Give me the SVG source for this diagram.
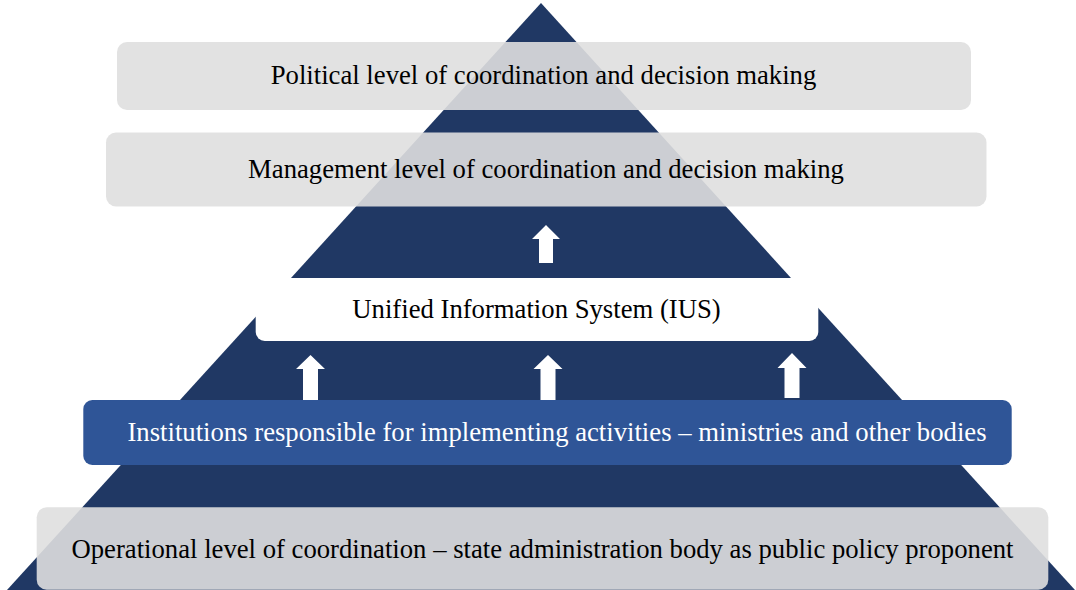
<svg xmlns="http://www.w3.org/2000/svg" width="1076" height="590" viewBox="0 0 1076 590">
  <style>
    .pyr { fill: #203864; }
    .level { fill: #dfdfdf; fill-opacity: 0.9; }
    .ius { fill: #ffffff; }
    .inst { fill: #2f5597; }
    .lbl { font-family: "Liberation Serif", "Times New Roman", serif; font-size: 26.7px; text-anchor: middle; fill: #000000; }
    .lbl-w { fill: #ffffff; }
    .arrow { fill: #ffffff; }
  </style>

  <!-- background -->
  <rect x="0" y="0" width="1076" height="590" fill="#ffffff"/>

  <!-- pyramid: upper triangle and lower trapezoid -->
  <g id="pyramid">
    <polygon class="pyr" points="541,3 291,278 791,278"/>
    <polygon class="pyr" points="271,300 811,300 1075,590 7,590"/>
  </g>

  <!-- block arrows -->
  <g id="connectors">
    <polygon class="arrow" points="546,225 560,239 553,239 553,263 539,263 539,239 532,239"/>
    <polygon class="arrow" points="310.5,355 325,369 318,369 318,400 303,400 303,369 296,369"/>
    <polygon class="arrow" points="548,355 562.5,369 555.5,369 555.5,400 540.5,400 540.5,369 533.5,369"/>
    <polygon class="arrow" points="792,353 806.5,368 799.5,368 799.5,398 784.5,398 784.5,368 777.5,368"/>
  </g>

  <g id="political">
    <rect class="level" x="117" y="42" width="854" height="68" rx="10"/>
    <text class="lbl" x="543.5" y="84">Political level of coordination and decision making</text>
  </g>

  <g id="management">
    <rect class="level" x="106" y="132.5" width="880.5" height="74" rx="10"/>
    <text class="lbl" x="546" y="177.5">Management level of coordination and decision making</text>
  </g>

  <g id="ius">
    <path class="ius" d="M255.7,278 H818.3 V332 A9,9 0 0 1 809.3,341 H264.7 A9,9 0 0 1 255.7,332 Z"/>
    <text class="lbl" x="536.5" y="318">Unified Information System (IUS)</text>
  </g>

  <g id="institutions">
    <rect class="inst" x="83.3" y="400" width="928.4" height="65" rx="9"/>
    <text class="lbl lbl-w" x="557" y="441">Institutions responsible for implementing activities – ministries and other bodies</text>
  </g>

  <g id="operational">
    <rect class="level" x="36.7" y="507.3" width="1011.6" height="82.5" rx="10"/>
    <text class="lbl" x="542.5" y="558">Operational level of coordination – state administration body as public policy proponent</text>
  </g>
</svg>
